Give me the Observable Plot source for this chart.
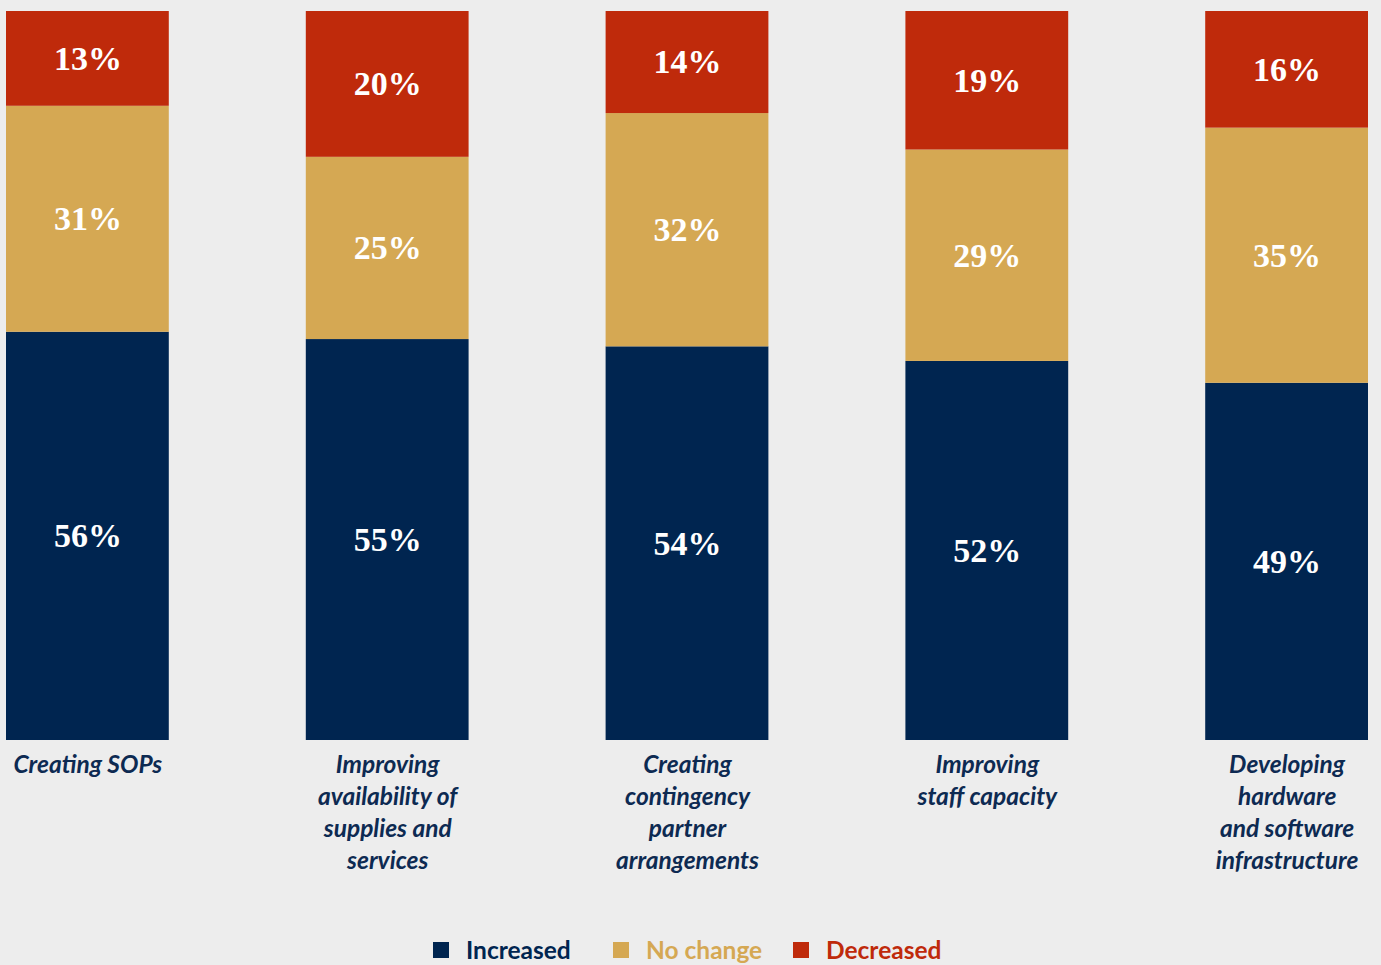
<!DOCTYPE html>
<html>
<head>
<meta charset="utf-8">
<script src="https://cdn.jsdelivr.net/npm/d3@7"></script>
<script src="https://cdn.jsdelivr.net/npm/@observablehq/plot@0.6"></script>
<style>
  html, body { margin: 0; padding: 0; background: #ededed; width: 1381px; height: 965px; overflow: hidden; }
  #chart { position: absolute; left: 0; top: 0; }
  #legend { position: absolute; left: 433px; top: 934px; display: flex; align-items: center;
    font-family: Lato, "Open Sans", sans-serif; font-weight: 700; font-size: 24.5px; line-height: 32px; }
  #legend .item { display: flex; align-items: center; width: 180px; white-space: nowrap; }
  #legend .sw { width: 16px; height: 16px; margin-right: 17px; display: inline-block; flex: none; }
</style>
</head>
<body>
<div id="chart"></div>
<div id="legend"></div>
<script>
const categories = [
  "Creating SOPs",
  "Improving\navailability of\nsupplies and\nservices",
  "Creating\ncontingency\npartner\narrangements",
  "Improving\nstaff capacity",
  "Developing\nhardware\nand software\ninfrastructure"
];
const series = ["Increased", "No change", "Decreased"];
const increased = [56, 55, 54, 52, 49];
const noChange = [31, 25, 32, 29, 35];
const decreased = [13, 20, 14, 19, 16];
const colors = ["#002550", "#d5a853", "#bf2a0b"];

const valuesBySeries = [increased, noChange, decreased];
const data = [];
series.forEach((s, si) => {
  categories.forEach((c, ci) => {
    data.push({category: c, series: s, value: valuesBySeries[si][ci]});
  });
});

const plot = Plot.plot({
  width: 1381,
  height: 900,
  marginTop: 11,
  marginBottom: 160,
  marginLeft: 6,
  marginRight: 13,
  style: {background: "#ededed"},
  x: {domain: categories, paddingInner: 0.457, paddingOuter: 0, round: false, axis: null},
  y: {domain: [0, 100], axis: null},
  color: {domain: series, range: colors},
  marks: [
    Plot.barY(data, {x: "category", y: "value", fill: "series", z: "series", order: series}),
    Plot.text(data, Plot.stackY({
      x: "category", y: "value", z: "series", order: series,
      text: d => d.value + "%",
      fill: "white", fontSize: 34, fontWeight: "bold",
      fontFamily: "'Liberation Serif', 'DejaVu Serif', serif"
    })),
    Plot.text(categories, {
      x: d => d, y: () => 0, text: d => d,
      lineAnchor: "top", dy: 10, lineHeight: 1.306,
      fontSize: 24.5, fontStyle: "italic", fontWeight: 700,
      fontFamily: "Lato, 'Open Sans', sans-serif", fill: "#0d2a52"
    })
  ]
});
document.getElementById("chart").appendChild(plot);

const legend = document.getElementById("legend");
series.forEach((s, i) => {
  const item = document.createElement("div");
  item.className = "item";
  const sw = document.createElement("span");
  sw.className = "sw";
  sw.style.background = colors[i];
  const t = document.createElement("span");
  t.textContent = s;
  t.style.color = colors[i];
  item.appendChild(sw);
  item.appendChild(t);
  legend.appendChild(item);
});
</script>
</body>
</html>
